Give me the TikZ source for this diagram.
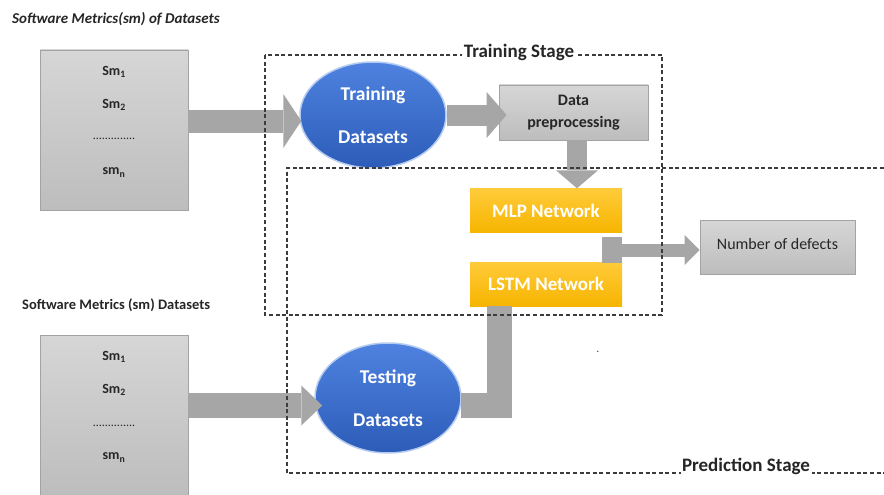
\documentclass[tikz,border=0pt]{standalone}
\usepackage{fontspec}
\setmainfont{Carlito}
\usetikzlibrary{shapes.geometric,arrows.meta,calc}
\definecolor{arrgray}{HTML}{A6A6A6}
\definecolor{boxtop}{HTML}{D6D6D6}
\definecolor{boxbot}{HTML}{BDBDBD}
\definecolor{boxline}{HTML}{A3A3A3}
\definecolor{bluetop}{HTML}{4F82E0}
\definecolor{bluebot}{HTML}{2C5CB8}
\definecolor{blueline}{HTML}{B5CBF0}
\definecolor{orgtop}{HTML}{FFCB3A}
\definecolor{orgbot}{HTML}{F7B500}
\definecolor{dashcol}{HTML}{3C3C3C}
\tikzset{
  srcbox/.style={draw=boxline, line width=0.8pt, top color=boxtop, bottom color=boxbot, minimum width=148pt, minimum height=160pt, inner sep=0pt},
  smtext/.style={font=\fontsize{14}{16}\selectfont\bfseries, text=black!85, inner sep=1pt},
  dotstext/.style={font=\fontsize{12}{14}\selectfont, text=black!85, inner sep=1pt},
  blueell/.style={ellipse, draw=blueline, line width=1.5pt, top color=bluetop, bottom color=bluebot, text=white, align=center, font=\fontsize{19.5}{43}\selectfont\bfseries, inner sep=0pt},
  graybox/.style={draw=boxline, line width=0.8pt, top color=boxtop, bottom color=boxbot, align=center, inner sep=0pt},
  orgbox/.style={fill=orgbot, top color=orgtop, bottom color=orgbot, text=white, font=\fontsize{19}{22}\selectfont\bfseries, minimum width=152pt, minimum height=44pt, inner sep=0pt},
  stagebox/.style={draw=dashcol, line width=1.1pt, dash pattern=on 4pt off 2.6pt},
  stagelabel/.style={fill=white, inner sep=1.5pt, font=\fontsize{19}{22}\selectfont\bfseries, text=black!85},
  titletext/.style={inner sep=0pt, anchor=west, text=black!85},
  barrow/.style args={#1/#2/#3}{draw=arrgray, line width=#1pt, -{Triangle[width=#2pt, length=#3pt, line width=0pt]}},
}
\begin{document}
\begin{tikzpicture}[x=1pt,y=-1pt]
\useasboundingbox (0,0) rectangle (884,495);
\fill[white] (0,0) rectangle (884,495);

% titles
\node[titletext, font=\fontsize{15}{17}\selectfont\bfseries\itshape] (title1) at (12,19) {Software Metrics(sm) of Datasets};
\node[titletext, font=\fontsize{14.5}{17}\selectfont\bfseries] (title2) at (22,305) {Software Metrics (sm) Datasets};

% source boxes
\node[srcbox] (topbox) at (114,130) {};
\node[smtext] (t1) at ($(topbox.north)+(0,22)$) {Sm\textsubscript{1}};
\node[smtext] (t2) at ($(topbox.north)+(0,55)$) {Sm\textsubscript{2}};
\node[dotstext] (t3) at ($(topbox.north)+(0,89)$) {..............};
\node[smtext] (t4) at ($(topbox.north)+(0,123)$) {sm\textsubscript{n}};

\node[srcbox] (botbox) at (114,415) {};
\node[smtext] (b1) at ($(botbox.north)+(0,22)$) {Sm\textsubscript{1}};
\node[smtext] (b2) at ($(botbox.north)+(0,55)$) {Sm\textsubscript{2}};
\node[dotstext] (b3) at ($(botbox.north)+(0,91)$) {..............};
\node[smtext] (b4) at ($(botbox.north)+(0,123)$) {sm\textsubscript{n}};

% ellipses
\node[blueell, minimum width=146pt, minimum height=106pt] (train) at (373,115) {Training\\Datasets};
\node[blueell, minimum width=146pt, minimum height=110pt] (test) at (388,398) {Testing\\Datasets};

% gray boxes
\node[graybox, minimum width=149pt, minimum height=55pt, font=\fontsize{16}{22}\selectfont\bfseries, text=black!85] (dp) at (573.5,112.5) {Data\\preprocessing};
\node[graybox, minimum width=155pt, minimum height=54pt, font=\fontsize{16}{18}\selectfont, text=black!85] (num) at (777.5,247) {\raisebox{7pt}{Number of defects}};

% networks
\node[orgbox] (mlp) at (546,210.5) {MLP Network};
\node[orgbox] (lstm) at (546,284) {LSTM Network};
\node[fill=arrgray, minimum width=20pt, minimum height=26pt, inner sep=0pt] (joint) at (612,250) {};

% connectors
\coordinate (tipA) at ([yshift=-6pt,xshift=2pt]train.west);
\draw[barrow=23/54/18] (topbox.east |- tipA) -- (tipA);
\draw[barrow=21/46/20] (train.east) -- ([xshift=8pt]dp.west |- train.east);
\draw[barrow=20/42/18] ([xshift=3.5pt]dp.south) -- ([xshift=3.5pt]dp.south |- mlp.north);
\draw[barrow=13/30/15] (joint.east) -- (num.west |- joint.east);
\coordinate (tipB) at ([yshift=-7.5pt,xshift=8pt]test.west);
\draw[barrow=25/40/21] (botbox.east |- tipB) -- (tipB);
\draw[draw=arrgray, line width=25pt, line join=miter] ([yshift=-7.5pt,xshift=-1pt]test.east) -| ([xshift=-46.5pt]lstm.south);

% stages
\draw[stagebox] (265,55) rectangle (662,315);
\draw[stagebox] (884,168) -- (287,168) -- (287,473) -- (884,473);
\node[stagelabel] (trainlab) at (519,52) {Training Stage};
\node[stagelabel] (predlab) at (746,466) {Prediction Stage};

% stray dot
\node[inner sep=0pt, font=\fontsize{12}{14}\selectfont, text=black!70] (dot) at (598,352) {.};
\end{tikzpicture}
\end{document}
